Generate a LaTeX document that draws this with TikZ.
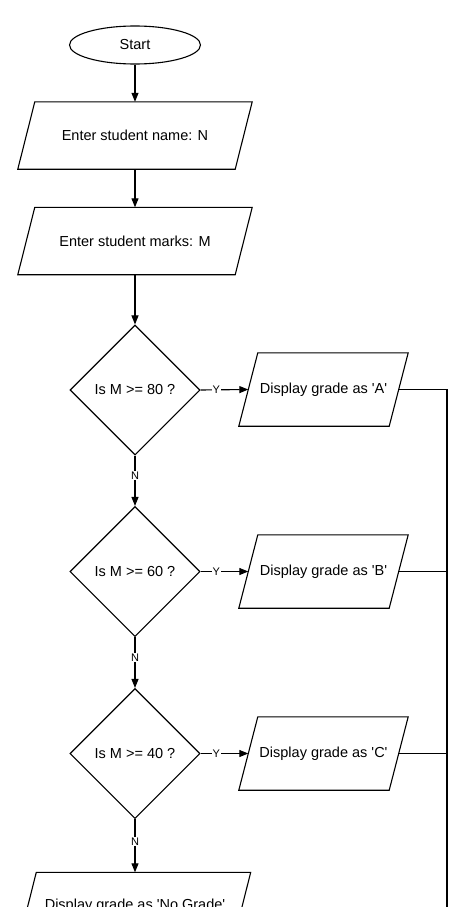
\documentclass[tikz,border=0pt]{standalone}
\usepackage{fontspec}
\setmainfont{Liberation Sans}
\usetikzlibrary{shapes.geometric,arrows.meta}
\begin{document}
\begin{tikzpicture}[x=1pt,y=-1pt,
  line/.style={draw=black, line width=1.1pt},
  arr/.style={line, -{Triangle[length=9pt,width=7pt]}},
  base/.style={font=\fontsize{14.5}{17}\selectfont, inner sep=0pt},
  term/.style={base, ellipse, draw=black, line width=1.1pt, minimum width=131pt, minimum height=38pt},
  io/.style={base, rectangle, minimum width=217pt, minimum height=67pt},
  iosm/.style={base, rectangle, minimum width=150pt, minimum height=73pt},
  dec/.style={base, diamond, draw=black, line width=1.1pt, minimum width=130pt, minimum height=130pt},
  lbl/.style={font=\fontsize{11}{13}\selectfont, fill=white, inner sep=1pt}
]
\useasboundingbox (0,0) rectangle (474,907);
\fill[white] (0,0) rectangle (474,907);
\clip (0,0) rectangle (474,907);

\node[term] (start) at (135,45) {Start};
\node[io] (n1) at (135,135.5) {Enter student name: N};
\node[io] (n2) at (135,241) {Enter student marks: M};
\node[dec] (d1) at (135,390) {Is M >= 80 ?};
\node[dec] (d2) at (135,571.5) {Is M >= 60 ?};
\node[dec] (d3) at (135,753.5) {Is M >= 40 ?};
\node[iosm] (ga) at (323.5,389.5) {Display grade as \textquotesingle A\textquotesingle};
\node[iosm] (gb) at (323.5,571.5) {Display grade as \textquotesingle B\textquotesingle};
\node[iosm] (gc) at (323.5,753.5) {Display grade as \textquotesingle C\textquotesingle};
\node[io, minimum width=214pt] (gn) at (135,906) {Display grade as \textquotesingle No Grade\textquotesingle};
\coordinate (bus) at (447,930);

\foreach \n/\s in {n1/8.5, n2/8.5, ga/9.5, gb/9.5, gc/9.5, gn/8.5}
  \draw[line] ([xshift=\s pt]\n.north west) -- ([xshift=\s pt]\n.north east)
     -- ([xshift=-\s pt]\n.south east) -- ([xshift=-\s pt]\n.south west) -- cycle;

\draw[arr] (start) -- (n1);
\draw[arr] (n1) -- (n2);
\draw[arr] (n2) -- (d1);
\draw[arr] (d1.east) -- node[lbl, pos=0.33] {Y} (ga.west);
\draw[arr] (d2.east) -- node[lbl, pos=0.33] {Y} (gb.west);
\draw[arr] (d3.east) -- node[lbl, pos=0.33] {Y} (gc.west);
\draw[arr] (d1.south) -- node[lbl, pos=0.4] {N} (d2.north);
\draw[arr] (d2.south) -- node[lbl, pos=0.4] {N} (d3.north);
\draw[arr] (d3.south) -- node[lbl, pos=0.42] {N} (gn.north);

\draw[line] (ga.east) -| (bus);
\draw[line] (gb.east) -- (gb.east -| bus);
\draw[line] (gc.east) -- (gc.east -| bus);
\end{tikzpicture}
\end{document}
